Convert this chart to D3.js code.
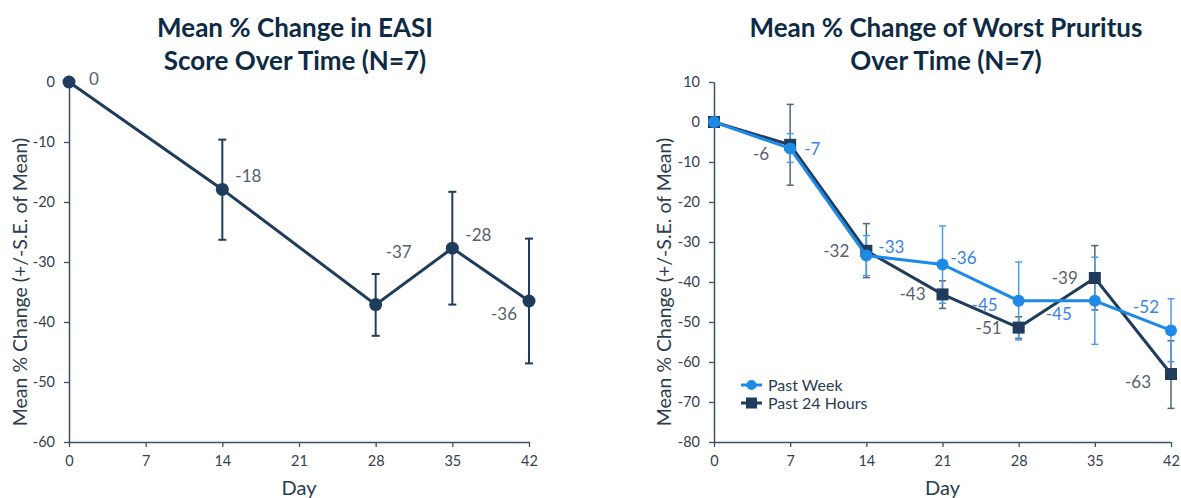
<!DOCTYPE html>
<html><head><meta charset="utf-8">
<script src="https://cdn.jsdelivr.net/npm/d3@7/dist/d3.min.js"></script>
<style>
html,body{margin:0;padding:0;background:#fff;}
svg{display:block;font-family:Lato,"Open Sans",sans-serif;}
</style></head>
<body>
<svg id="chart" width="1181" height="498"></svg>
<script>
// ---- data ----
const days = [0, 7, 14, 21, 28, 35, 42];
const xTicks = [0, 7, 14, 21, 28, 35, 42];

// Left: EASI
const easiDays = [0, 14, 28, 35, 42];
const easiMean = [0, -17.9, -37.1, -27.7, -36.5];
const easiLow = [0, -26.3, -42.3, -37.1, -46.9];
const easiHigh = [0, -9.6, -32.0, -18.3, -26.1];
const easiLabels = ["0", "-18", "-37", "-28", "-36"];
const easiLabelPos = ["r-zero", "r-up", "r-high", "r-up", "l-down"];
const leftYTicks = [0, -10, -20, -30, -40, -50, -60];

// Right: Worst Pruritus
const weekMean = [0, -6.6, -33.4, -35.6, -44.7, -44.7, -52.1];
const weekLow = [0, -10.1, -38.4, -45.3, -54.5, -55.6, -59.9];
const weekHigh = [0, -2.9, -28.4, -26.0, -35.0, -33.8, -44.2];
const weekLabels = ["", "-7", "-33", "-36", "-45", "-45", "-52"];
const weekLabelPos = ["", "r", "r-up", "r-up2", "l", "l-down", "l-up"];

const dayMean = [0, -5.7, -32.2, -43.1, -51.4, -39.0, -63.0];
const dayLow = [0, -15.8, -38.9, -46.6, -54.1, -47.0, -71.6];
const dayHigh = [0, 4.4, -25.4, -39.7, -48.7, -30.9, -54.7];
const dayLabels = ["", "-6", "-32", "-43", "-51", "-39", "-63"];
const dayLabelPos = ["", "l-down", "l", "l", "l", "l", "l-down2"];
const rightYTicks = [10, 0, -10, -20, -30, -40, -50, -60, -70, -80];

const seriesNames = ["Past Week", "Past 24 Hours"];

// ---- style ----
const NAVY = "#1f3c5c";
const BLUE = "#1d8ae8";
const BLUE_TXT = "#3c7fe8";
const GREY_TXT = "#56616c";
const AXIS = "#3f5064";
const TITLE = "#0e2b45";

const svg = d3.select("#chart");

const leftOff = {
  "r-zero": [20, -3, "start"],
  "r-up": [13, -13, "start"],
  "r-high": [10, -53, "start"],
  "l-down": [-12, 13, "end"],
};
const weekOff = {"r": [14, 1], "r-up": [12, -9], "r-up2": [8, -6], "l": [-21, 4], "l-down": [-23, 13], "l-up": [-12, -23]};
const dayOff = {"l-down": [-21, 9], "l": [-17, 0], "l-down2": [-20, 8]};

function drawAxes(g, x, y, yTicks, title, titleX, yTitleX) {
  const [x0, x1] = x.range();
  const [yTop, yBot] = [y.range()[1], y.range()[0]];
  const fmt = d => String(d);
  const xa = g.append("g").attr("transform", `translate(0,${yBot})`)
    .call(d3.axisBottom(x).tickValues(xTicks).tickFormat(fmt).tickSize(5).tickPadding(9).tickSizeOuter(0));
  const ya = g.append("g").attr("transform", `translate(${x0},0)`)
    .call(d3.axisLeft(y).tickValues(yTicks).tickFormat(fmt).tickSize(5).tickPadding(9).tickSizeOuter(0));
  [xa, ya].forEach(a => {
    a.select(".domain").attr("stroke", AXIS).attr("stroke-width", 1.5);
    a.selectAll(".tick line").attr("stroke", AXIS).attr("stroke-width", 1.3);
    a.selectAll(".tick text").attr("fill", "#34414e").attr("font-size", 14.5)
      .attr("font-family", "Lato, sans-serif");
  });
  g.append("text").attr("x", (x0 + x1) / 2).attr("y", 495)
    .attr("text-anchor", "middle").attr("fill", "#2b3d50").attr("font-size", 20).text("Day");
  g.append("text").attr("transform", `translate(${yTitleX},${(yTop + yBot) / 2 + 20}) rotate(-90)`)
    .attr("dy", "0.35em")
    .attr("text-anchor", "middle").attr("fill", "#2b3d50").attr("font-size", 19.5)
    .text("Mean % Change (+/-S.E. of Mean)");
  title.forEach((t, i) => {
    g.append("text").attr("x", titleX).attr("y", 37 + i * 33)
      .attr("text-anchor", "middle").attr("fill", TITLE).attr("font-size", 26)
      .attr("font-weight", 700).text(t);
  });
}

function errBars(g, xs, lows, highs, x, y, color, cap, width) {
  const eg = g.append("g");
  xs.forEach((d, i) => {
    if (lows[i] === highs[i]) return;
    eg.append("line").attr("x1", x(d)).attr("x2", x(d)).attr("y1", y(lows[i])).attr("y2", y(highs[i]))
      .attr("stroke", color).attr("stroke-width", width);
    [lows[i], highs[i]].forEach(v => {
      eg.append("line").attr("x1", x(d) - cap).attr("x2", x(d) + cap).attr("y1", y(v)).attr("y2", y(v))
        .attr("stroke", color).attr("stroke-width", width);
    });
  });
}

// ---- Left chart ----
{
  const g = svg.append("g");
  const x = d3.scaleLinear().domain([0, 42]).range([69, 529]);
  const y = d3.scaleLinear().domain([-60, 0]).range([442, 82]);
  drawAxes(g, x, y, leftYTicks, ["Mean % Change in EASI", "Score Over Time (N=7)"], 295, 20);
  errBars(g, easiDays, easiLow, easiHigh, x, y, NAVY, 4, 2);
  const line = d3.line().x((d, i) => x(easiDays[i])).y(d => y(d));
  g.append("path").datum(easiMean).attr("d", line).attr("fill", "none")
    .attr("stroke", NAVY).attr("stroke-width", 3);
  g.selectAll(".pt").data(easiMean).enter().append("circle")
    .attr("cx", (d, i) => x(easiDays[i])).attr("cy", d => y(d)).attr("r", 6.5).attr("fill", NAVY);
  easiLabels.forEach((t, i) => {
    const o = leftOff[easiLabelPos[i]];
    g.append("text").attr("x", x(easiDays[i]) + o[0]).attr("y", y(easiMean[i]) + o[1])
      .attr("dy", "0.35em").attr("text-anchor", o[2]).attr("fill", GREY_TXT)
      .attr("font-size", 17).text(t);
  });
}

// ---- Right chart ----
{
  const g = svg.append("g");
  const x = d3.scaleLinear().domain([0, 42]).range([714, 1171]);
  const y = d3.scaleLinear().domain([-80, 10]).range([442, 82]);
  drawAxes(g, x, y, rightYTicks, ["Mean % Change of Worst Pruritus", "Over Time (N=7)"], 946, 664);

  const line = d3.line().x((d, i) => x(days[i])).y(d => y(d));

  errBars(g, days, dayLow, dayHigh, x, y, "#4f647a", 3.5, 1.5);
  errBars(g, days, weekLow, weekHigh, x, y, "#4a9ee8", 3.5, 1.5);
  // Past 24 Hours (navy, squares)
  g.append("path").datum(dayMean).attr("d", line).attr("fill", "none")
    .attr("stroke", NAVY).attr("stroke-width", 3);
  g.selectAll(".sq").data(dayMean).enter().append("rect")
    .attr("x", (d, i) => x(days[i]) - 6).attr("y", d => y(d) - 6)
    .attr("width", 12).attr("height", 12).attr("fill", NAVY);

  // Past Week (blue, circles)
  g.append("path").datum(weekMean).attr("d", line).attr("fill", "none")
    .attr("stroke", BLUE).attr("stroke-width", 3);
  g.selectAll(".ci").data(weekMean).enter().append("circle")
    .attr("cx", (d, i) => x(days[i])).attr("cy", d => y(d)).attr("r", 6).attr("fill", BLUE);

  dayLabels.forEach((t, i) => {
    if (!t) return;
    const o = dayOff[dayLabelPos[i]];
    g.append("text").attr("x", x(days[i]) + o[0]).attr("y", y(dayMean[i]) + o[1])
      .attr("dy", "0.35em").attr("text-anchor", "end").attr("fill", GREY_TXT)
      .attr("font-size", 17).text(t);
  });
  weekLabels.forEach((t, i) => {
    if (!t) return;
    const pos = weekLabelPos[i];
    const o = weekOff[pos];
    const anchor = pos.startsWith("r") ? "start" : "end";
    g.append("text").attr("x", x(days[i]) + o[0]).attr("y", y(weekMean[i]) + o[1])
      .attr("dy", "0.35em").attr("text-anchor", anchor).attr("fill", BLUE_TXT)
      .attr("font-size", 17).text(t);
  });

  // legend
  const lg = g.append("g").attr("transform", "translate(741,385)");
  seriesNames.forEach((n, i) => {
    const row = lg.append("g").attr("transform", `translate(0,${i * 18})`);
    const c = i === 0 ? BLUE : NAVY;
    row.append("line").attr("x1", 0).attr("x2", 21).attr("stroke", c).attr("stroke-width", 3);
    if (i === 0) row.append("circle").attr("cx", 10.5).attr("r", 5).attr("fill", c);
    else row.append("rect").attr("x", 5).attr("y", -5.5).attr("width", 11).attr("height", 11).attr("fill", c);
    row.append("text").attr("x", 27).attr("dy", "0.35em").attr("fill", "#2b3d50")
      .attr("font-size", 16).text(n);
  });
}
</script>
</body></html>
